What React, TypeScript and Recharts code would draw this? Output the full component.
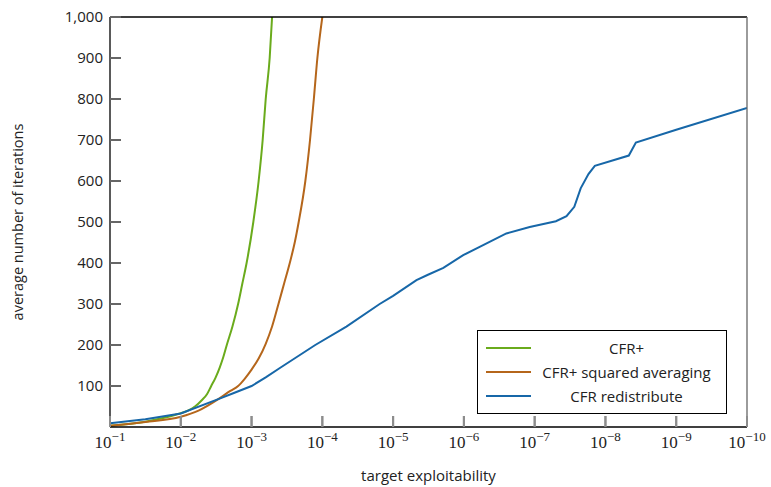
import { LineChart, Line, XAxis, YAxis, CartesianGrid, Legend } from "recharts";

// x is the exponent k of the target exploitability 10^-k
const cfrPlusExp = [1, 1.5, 1.95, 2.1, 2.2, 2.3, 2.37, 2.43, 2.49, 2.55, 2.6, 2.65, 2.73, 2.81, 2.87, 2.93, 3.025, 3.1, 3.157, 3.2, 3.256, 3.29];
const cfrPlusIters = [3, 13, 31, 40, 50, 66, 80, 100, 120, 145, 170, 200, 245, 300, 350, 400, 500, 600, 700, 800, 900, 1000];

const squaredExp = [1, 1.5, 2, 2.25, 2.53, 2.7, 2.81, 2.9, 3.0, 3.1, 3.2, 3.29, 3.38, 3.46, 3.54, 3.61, 3.666, 3.76, 3.826, 3.88, 3.93, 4.0];
const squaredIters = [3, 12, 25, 40, 68, 88, 100, 117, 140, 167, 203, 245, 300, 350, 400, 450, 500, 600, 700, 800, 900, 1000];

const redistExp = [1, 1.5, 2, 2.53, 2.75, 3, 3.2, 3.4, 3.9, 4.34, 4.81, 5, 5.33, 5.5, 5.71, 5.99, 6.23, 6.6, 6.93, 7.3, 7.45, 7.56, 7.65, 7.76, 7.85, 8.33, 8.43, 9, 10];
const redistIters = [9, 19, 33, 68, 83, 100, 121, 144, 200, 245, 300, 320, 358, 372, 388, 419, 440, 472, 488, 502, 514, 537, 582, 617, 637, 662, 694, 725, 778];

const seriesNames = ["CFR+", "CFR+ squared averaging", "CFR redistribute"];
const xTicks = [1, 2, 3, 4, 5, 6, 7, 8, 9, 10];
const yTicks = [100, 200, 300, 400, 500, 600, 700, 800, 900, 1000];
const gridValues = [100, 200, 300, 400, 500, 600, 700, 800, 900];

const zip = (ks: number[], vs: number[]) => ks.map((k, i) => ({ k, v: vs[i] }));

const sans = "'Open Sans', sans-serif";
const serif = "'Liberation Serif', serif";
const tickLen = 11;
const xTickColor = "#8c8c8c";
const yTickColor = "#666";

function BottomTick({ x, y, payload }: any) {
  return (
    <g>
      <line x1={x} y1={y} x2={x} y2={y - tickLen} stroke={xTickColor} strokeWidth={2} />
      <text x={x} y={y + 21} textAnchor="middle" fontFamily={serif} fontSize={17} fill="#222">
        10
        <tspan dy={-7} fontSize={13}>{"\u2212" + payload.value}</tspan>
      </text>
    </g>
  );
}

function TopTick({ x, y }: any) {
  return <line x1={x} y1={y} x2={x} y2={y + tickLen} stroke={xTickColor} strokeWidth={2} />;
}

function LeftTick({ x, y, payload }: any) {
  return (
    <g>
      <line x1={x} y1={y} x2={x + tickLen} y2={y} stroke={yTickColor} strokeWidth={2} />
      <text x={x - 7} y={y + 5} textAnchor="end" fontFamily={sans} fontSize={15} fill="#222">
        {payload.value.toLocaleString("en-US")}
      </text>
    </g>
  );
}

function RightTick({ x, y }: any) {
  return <line x1={x} y1={y} x2={x - tickLen} y2={y} stroke={yTickColor} strokeWidth={2} />;
}

function LegendBox({ payload }: any) {
  const items = seriesNames
    .map((n) => (payload || []).find((p: any) => p.value === n))
    .filter(Boolean);
  return (
    <div
      style={{
        border: "1px solid #000",
        background: "#fff",
        width: 250,
        height: 84,
        boxSizing: "border-box",
        paddingTop: 5,
        fontFamily: sans,
        fontSize: 15,
        color: "#222",
      }}
    >
      {items.map((entry: any) => (
        <div key={entry.value} style={{ display: "flex", alignItems: "center", height: 24 }}>
          <span style={{ display: "inline-block", width: 45, height: 2, background: entry.color, marginLeft: 8 }} />
          <span style={{ flex: 1, textAlign: "center", paddingRight: 4 }}>{entry.value}</span>
        </div>
      ))}
    </div>
  );
}

export default function App() {
  return (
    <div style={{ position: "absolute", left: 0, top: 0 }}>
      <LineChart width={771} height={487} margin={{ top: 16, right: 23, bottom: 0, left: 0 }}>
        <CartesianGrid vertical={false} stroke="#c8c8c8" horizontalValues={gridValues} />
        <XAxis
          xAxisId="bottom"
          type="number"
          dataKey="k"
          domain={[1, 10]}
          ticks={xTicks}
          height={60}
          axisLine={{ stroke: "#000", strokeWidth: 1.3 }}
          tickLine={{ stroke: xTickColor, strokeWidth: 2 }}
          tickSize={-tickLen}
          tickMargin={tickLen}
          tick={<BottomTick />}
          interval={0}
          allowDataOverflow
          label={{
            value: "target exploitability",
            position: "insideBottom",
            offset: 6,
            style: { fontFamily: sans, fontSize: 15, fill: "#222" },
          }}
        />
        <XAxis
          xAxisId="top"
          orientation="top"
          type="number"
          dataKey="k"
          domain={[1, 10]}
          ticks={xTicks}
          height={1}
          axisLine={{ stroke: "#000", strokeWidth: 1.3 }}
          tickLine={{ stroke: xTickColor, strokeWidth: 2 }}
          tickSize={-tickLen}
          tickMargin={tickLen}
          tick={<TopTick />}
          interval={0}
        />
        <YAxis
          yAxisId="left"
          type="number"
          domain={[0, 1000]}
          ticks={yTicks}
          width={110}
          axisLine={{ stroke: "#000", strokeWidth: 1.3 }}
          tickLine={{ stroke: yTickColor, strokeWidth: 2 }}
          tickSize={-tickLen}
          tickMargin={tickLen}
          tick={<LeftTick />}
          interval={0}
          allowDataOverflow
          label={{
            value: "average number of iterations",
            angle: -90,
            position: "insideLeft",
            offset: 18,
            style: { textAnchor: "middle", fontFamily: sans, fontSize: 14.5, fill: "#222" },
          }}
        />
        <YAxis
          yAxisId="right"
          orientation="right"
          type="number"
          domain={[0, 1000]}
          ticks={yTicks}
          width={1}
          axisLine={{ stroke: "#666", strokeWidth: 1.3 }}
          tickLine={{ stroke: yTickColor, strokeWidth: 2 }}
          tickSize={-tickLen}
          tickMargin={tickLen}
          tick={<RightTick />}
          interval={0}
        />
        <Legend
          layout="vertical"
          align="center"
          verticalAlign="middle"
          content={<LegendBox />}
          wrapperStyle={{ left: 477, top: 330, width: 250, height: 84 }}
        />
        <Line
          xAxisId="bottom"
          yAxisId="left"
          name="CFR+"
          data={zip(cfrPlusExp, cfrPlusIters)}
          dataKey="v"
          type="monotone"
          stroke="#6aab1c"
          strokeWidth={2}
          dot={false}
          isAnimationActive={false}
        />
        <Line
          xAxisId="bottom"
          yAxisId="left"
          name="CFR+ squared averaging"
          data={zip(squaredExp, squaredIters)}
          dataKey="v"
          type="monotone"
          stroke="#b5661b"
          strokeWidth={2}
          dot={false}
          isAnimationActive={false}
        />
        <Line
          xAxisId="bottom"
          yAxisId="left"
          name="CFR redistribute"
          data={zip(redistExp, redistIters)}
          dataKey="v"
          type="linear"
          stroke="#1767a8"
          strokeWidth={2}
          dot={false}
          isAnimationActive={false}
        />
      </LineChart>
    </div>
  );
}
